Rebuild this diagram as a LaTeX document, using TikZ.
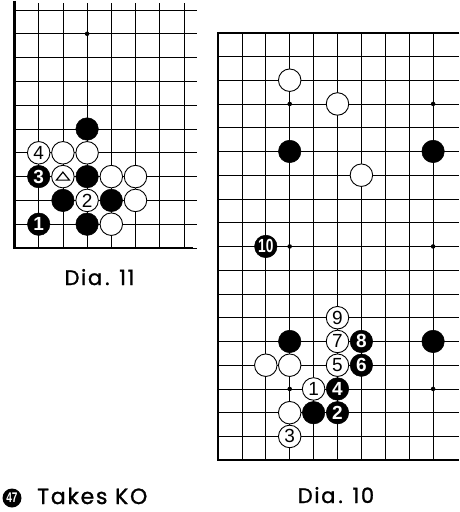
\documentclass[tikz,border=0pt]{standalone}
\usepackage{fontspec}
\setmainfont{Poppins}
\newfontfamily\numfont{Liberation Sans}
\newfontfamily\labfont[LetterSpace=8,FakeBold=1.2]{Poppins}
\begin{document}
\begin{tikzpicture}[x=1pt,y=-1pt,
  gridline/.style={line width=0.8pt},
  edgeline/.style={line width=2.4pt},
  bstone/.style={circle, fill=black, draw=black, line width=0.5pt, minimum size=22.5pt, inner sep=0pt, text=white, font=\numfont\bfseries\fontsize{19}{19}\selectfont},
  wstone/.style={circle, fill=white, draw=black, line width=0.9pt, minimum size=22.5pt, inner sep=0pt, text=black, font=\numfont\fontsize{19}{19}\selectfont},
  starpt/.style={circle, fill=black, minimum size=4.5pt, inner sep=0pt},
  caption/.style={font=\labfont\fontsize{21}{21}\selectfont, inner sep=0pt},
  tri/.style={line width=1.2pt, line join=miter}
]
\useasboundingbox (0,0) rectangle (459,512);
\fill[white] (0,0) rectangle (459,512);

% ---------- Dia. 11 ----------
\begin{scope}[shift={(14.5pt,-248pt)}, x=24.2pt, y=23.8pt]
  \foreach \c in {0,...,7} \draw[gridline] (\c,0) -- (\c,10.3);
  \foreach \r in {0,...,10} \draw[gridline] (0,\r) -- (7.54,\r);
  \draw[edgeline] (0,10.38) -- (0,0) -- (7.38,0);
  \node[starpt] (a-s1) at (3,9) {};
  \foreach \c/\r/\t [count=\i] in {3/5/{},1/3/3,3/3/{},2/2/{},4/2/{},1/1/1,3/1/{}}
    \node[bstone] (a-b\i) at (\c,\r) {\t};
  \foreach \c/\r/\t [count=\i] in {1/4/4,2/4/{},3/4/{},2/3/{},4/3/{},5/3/{},3/2/2,5/2/{},4/1/{}}
    \node[wstone] (a-w\i) at (\c,\r) {\t};
  \draw[tri] ([yshift=4.5pt]a-w4.center) -- ([xshift=-6.5pt,yshift=-3.5pt]a-w4.center) -- ([xshift=6.5pt,yshift=-3.5pt]a-w4.center) -- cycle;
\end{scope}
\node[caption, anchor=base] (d11) at (99.5,285) {Dia\kern3pt. 11};

% ---------- Dia. 10 ----------
\begin{scope}[shift={(218pt,-32.7pt)}, x=23.9pt, y=-23.75pt]
  \foreach \c in {0,...,9} \draw[gridline] (\c,0) -- (\c,18);
  \foreach \r in {0,...,18} \draw[gridline] (0,\r) -- (10.1,\r);
  \draw[edgeline] (10.1,0) -- (0,0) -- (0,18) -- (10.1,18);
  \foreach \c/\r [count=\i] in {3/3,9/3,3/9,9/9,3/15,9/15}
    \node[starpt] (b-s\i) at (\c,\r) {};
  \foreach \c/\r/\t [count=\i] in {3/2/{},5/3/{},6/6/{},5/12/9,5/13/7,2/14/{},3/14/{},5/14/5,4/15/1,3/16/{},3/17/3}
    \node[wstone] (b-w\i) at (\c,\r) {\t};
  \foreach \c/\r/\t [count=\i] in {3/5/{},9/5/{},2/9/{\scalebox{0.72}[1]{10}},3/13/{},6/13/8,9/13/{},6/14/6,5/15/4,4/16/{},5/16/2}
    \node[bstone] (b-b\i) at (\c,\r) {\t};
\end{scope}
\node[caption, anchor=base] (d10) at (336,503) {Dia\kern3pt. 10};

% ---------- footer ----------
\node[circle, fill=black, minimum size=19pt, inner sep=0pt, text=white, font=\numfont\bfseries\fontsize{14}{14}\selectfont] (k47) at (12,498) {\scalebox{0.72}[1]{47}};
\node[caption, anchor=base west, font=\labfont\fontsize{22}{22}\selectfont] (takes) at (37,504) {Takes KO};
\end{tikzpicture}
\end{document}
